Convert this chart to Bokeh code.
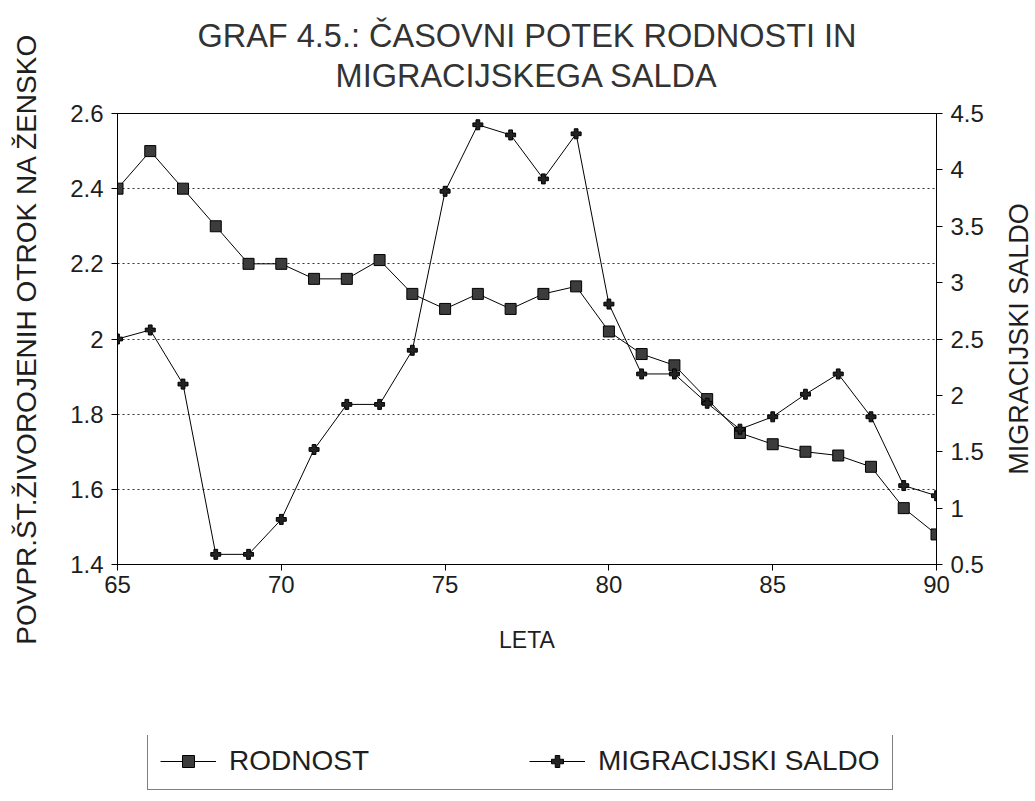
from bokeh.plotting import figure
from bokeh.layouts import column, row
from bokeh.models import Range1d, LinearAxis, FixedTicker, Legend, LegendItem, Title
from bokeh.embed import file_html
from bokeh.resources import INLINE

# ---- data ----
years = list(range(65, 91))
rodnost = [2.40, 2.50, 2.40, 2.30, 2.20, 2.20, 2.16, 2.16, 2.21, 2.12, 2.08, 2.12, 2.08,
           2.12, 2.14, 2.02, 1.96, 1.93, 1.84, 1.75, 1.72, 1.70, 1.69, 1.66, 1.55, 1.48]
migracijski_saldo = [2.50, 2.58, 2.10, 0.59, 0.59, 0.90, 1.52, 1.92, 1.92, 2.40, 3.81, 4.40, 4.31,
                     3.92, 4.32, 2.81, 2.19, 2.19, 1.93, 1.70, 1.81, 2.01, 2.19, 1.81, 1.20, 1.11]

x_ticks = [65, 70, 75, 80, 85, 90]
left_ticks = [1.4, 1.6, 1.8, 2.0, 2.2, 2.4, 2.6]
left_tick_labels = ["1.4", "1.6", "1.8", "2", "2.2", "2.4", "2.6"]
right_ticks = [0.5, 1.0, 1.5, 2.0, 2.5, 3.0, 3.5, 4.0, 4.5]
right_tick_labels = ["0.5", "1", "1.5", "2", "2.5", "3", "3.5", "4", "4.5"]

title_lines = ["GRAF 4.5.: ČASOVNI POTEK RODNOSTI IN", "MIGRACIJSKEGA SALDA"]
x_label = "LETA"
left_label = "POVPR.ŠT.ŽIVOROJENIH OTROK NA ŽENSKO"
right_label = "MIGRACIJSKI SALDO"
series_names = ["RODNOST", "MIGRACIJSKI SALDO"]

FONT = "Liberation Sans"
INK = "#1e1e1e"

p = figure(width=1001, height=735, x_range=Range1d(65, 90), y_range=Range1d(1.4, 2.6),
           output_backend="svg", toolbar_location=None, title=None,
           min_border_left=117, min_border_right=65, min_border_top=113, min_border_bottom=171)
p.extra_y_ranges = {"mig": Range1d(0.5, 4.5)}

p.outline_line_color = "black"
p.outline_line_width = 1
p.background_fill_color = "white"
p.border_fill_color = "white"

# grid
p.xgrid.visible = False
p.ygrid.ticker = FixedTicker(ticks=left_ticks)
p.ygrid.grid_line_color = "#333333"
p.ygrid.grid_line_dash = "2 3"
p.ygrid.grid_line_width = 1

# axes
xa = p.xaxis[0]
xa.ticker = FixedTicker(ticks=x_ticks)
xa.axis_label = x_label
ya = p.yaxis[0]
ya.ticker = FixedTicker(ticks=left_ticks)
ya.major_label_overrides = dict(zip(left_ticks, left_tick_labels))
ya.axis_label = left_label

ra = LinearAxis(y_range_name="mig", ticker=FixedTicker(ticks=right_ticks))
ra.major_label_overrides = dict(zip(right_ticks, right_tick_labels))
p.add_layout(ra, "right")

for ax in [xa, ya, ra]:
    ax.axis_line_color = "black"
    ax.major_tick_line_color = "black"
    ax.minor_tick_line_color = None
    ax.major_tick_in = 0
    ax.major_tick_out = 6
    ax.major_label_text_font = FONT
    ax.major_label_text_font_size = "24px"
    ax.major_label_text_color = INK
    ax.axis_label_text_font = FONT
    ax.axis_label_text_font_size = "28px"
    ax.axis_label_text_font_style = "normal"
    ax.axis_label_text_color = INK
xa.axis_label_text_font_size = "23px"
xa.major_label_standoff = 5
xa.axis_label_standoff = 31
ya.major_label_standoff = 8
ya.axis_label_standoff = 25
ra.major_label_standoff = 8

# series
r_line = p.line(years, rodnost, line_color="black", line_width=1)
r_pts = p.scatter(years, rodnost, marker="square", size=11, fill_color="#3c3c3c", line_color="black")
m_line = p.line(years, migracijski_saldo, line_color="black", line_width=1, y_range_name="mig")
m_pts = p.scatter(years, migracijski_saldo, marker="plus", size=10, fill_color="#222222",
                  line_color="black", y_range_name="mig")

# two title lines (first added sits closest to the frame)
t2 = Title(text=title_lines[1], align="center", text_font=FONT, text_font_size="32.5px",
           text_font_style="normal", text_color="#333333", standoff=40)
t1 = Title(text=title_lines[0], align="center", text_font=FONT, text_font_size="32.5px",
           text_font_style="normal", text_color="#333333", standoff=-36)
p.add_layout(t2, "above")
p.add_layout(t1, "above")

# ---- right-hand axis title (reads bottom-to-top like the reference) ----
side = figure(width=34, height=735, x_range=Range1d(0, 1), y_range=Range1d(0, 1),
              output_backend="svg", toolbar_location=None, title=None,
              x_axis_location=None, y_axis_location=None,
              min_border_left=0, min_border_right=0, min_border_top=113, min_border_bottom=171)
side.outline_line_color = None
side.grid.visible = False
side.add_layout(Title(text=right_label, align="center", vertical_align="bottom", standoff=0,
                      text_font=FONT, text_font_size="27px", text_font_style="normal",
                      text_color=INK), "left")

# ---- legend strip below the chart (proxy renderers lie outside its ranges) ----
lg = figure(width=1001, height=56, x_range=Range1d(0, 1), y_range=Range1d(0, 1),
            output_backend="svg", toolbar_location=None, title=None,
            x_axis_location=None, y_axis_location=None,
            min_border_left=0, min_border_right=0, min_border_top=0, min_border_bottom=0)
lg.outline_line_color = None
lg.grid.visible = False
lg_r_line = lg.line(years, rodnost, line_color="black", line_width=1)
lg_r_pts = lg.scatter(years, rodnost, marker="square", size=11, fill_color="#3c3c3c", line_color="black")
lg_m_line = lg.line(years, migracijski_saldo, line_color="black", line_width=1)
lg_m_pts = lg.scatter(years, migracijski_saldo, marker="plus", size=10, fill_color="#222222",
                      line_color="black")

legend = Legend(items=[LegendItem(label=series_names[0], renderers=[lg_r_line, lg_r_pts]),
                       LegendItem(label=series_names[1], renderers=[lg_m_line, lg_m_pts])],
                orientation="horizontal", location=(30, 1))
legend.label_text_font = FONT
legend.label_text_font_size = "28px"
legend.label_text_color = INK
legend.glyph_width = 56
legend.glyph_height = 30
legend.label_height = 30
legend.label_standoff = 13
legend.spacing = 160
legend.padding = 12
legend.border_line_color = "black"
legend.border_line_width = 1
legend.background_fill_color = "white"
legend.background_fill_alpha = 1
lg.add_layout(legend, "center")

layout = row(column(p, lg, spacing=0), side, spacing=0)
open("out.html", "w").write(file_html(layout, INLINE))
